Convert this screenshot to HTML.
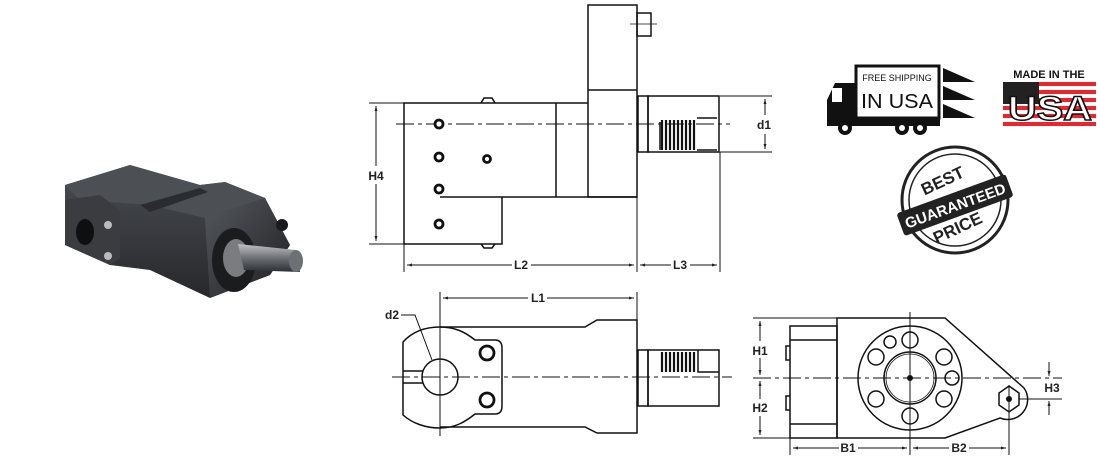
<!DOCTYPE html>
<html><head><meta charset="utf-8"><style>
html,body{margin:0;padding:0;background:#fff;}
svg{display:block;}
text{font-family:"Liberation Sans",sans-serif;}
</style></head><body>
<svg width="1100" height="462" viewBox="0 0 1100 462" xmlns="http://www.w3.org/2000/svg">
<defs>
<marker id="a" viewBox="0 0 10 10" refX="10" refY="5" markerWidth="7" markerHeight="5" orient="auto-start-reverse"><path d="M0,2 L10,5 L0,8 z" fill="#222"/></marker>
<linearGradient id="g1" x1="0" y1="0" x2="0" y2="1"><stop offset="0" stop-color="#4a4d52"/><stop offset="1" stop-color="#26282b"/></linearGradient>
<linearGradient id="g2" x1="0" y1="0" x2="1" y2="1"><stop offset="0" stop-color="#55585d"/><stop offset="1" stop-color="#1e1f22"/></linearGradient>
<linearGradient id="g3" x1="0" y1="0" x2="0" y2="1"><stop offset="0" stop-color="#bfc1c4"/><stop offset="0.5" stop-color="#6d7075"/><stop offset="1" stop-color="#2c2e31"/></linearGradient>
</defs>

<!-- 3D product -->
<g>
<polygon points="65,185 130,165 200,185 225,182 265,198 290,245 270,275 210,298 150,270 110,265 65,245" fill="url(#g1)"/>
<polygon points="65,185 130,165 200,185 225,182 265,198 205,218 150,205 80,200" fill="#4c4f54"/>
<polygon points="140,205 200,188 208,192 150,212" fill="#2a2c2f"/>
<polygon points="205,218 265,198 290,245 270,275 210,298" fill="url(#g2)"/>
<polygon points="65,200 100,195 120,210 120,258 110,265 65,245" fill="#3a3c40"/>
<ellipse cx="85" cy="232" rx="9" ry="13" fill="#0e0f10"/>
<circle cx="108" cy="225" r="4" fill="#bbb"/><circle cx="108" cy="256" r="4" fill="#bbb"/>
<ellipse cx="234" cy="260" rx="22" ry="32" fill="#1b1c1e"/>
<ellipse cx="236" cy="258" rx="13" ry="19" fill="#7a7c80"/>
<polygon points="238,244 296,250 300,272 244,270" fill="url(#g3)"/>
<ellipse cx="296" cy="261" rx="7" ry="11" fill="#6d7075"/>
<circle cx="282" cy="225" r="6" fill="#1a1b1d"/>
</g>

<g fill="none" stroke="#111" stroke-width="1.5">
<!-- TOP VIEW -->
<rect x="588" y="5" width="49" height="192"/>
<line x1="588" y1="90" x2="637" y2="90"/>
<rect x="637" y="13" width="14" height="23"/>
<line x1="630" y1="24" x2="657" y2="24" stroke-width="0.8"/>
<polyline points="440,103 404,103 404,244 502,244 502,197"/>
<line x1="440" y1="103" x2="588" y2="103"/>
<line x1="556" y1="103" x2="556" y2="197"/>
<line x1="440" y1="197" x2="637" y2="197"/>
<path d="M481,103 l3,-5 h8 l3,5 M481,244 l3,4 h8 l3,-4"/>
<rect x="638" y="96" width="10" height="56"/>
<rect x="648" y="96" width="71" height="56"/>
<path d="M660,150 v-28 M697,118 h20 M697,150 h20"/>
<g stroke-width="2.2">
<path d="M662,120 v30 M666,120 v30 M670,120 v30 M674,120 v30 M678,120 v30 M682,120 v30 M686,120 v30 M690,120 v30 M694,120 v30"/>
</g>
<line x1="396" y1="124" x2="730" y2="124" stroke-dasharray="18,4,4,4" stroke-width="1"/>
<!-- dims top -->
<line x1="369" y1="103" x2="404" y2="103" stroke-width="1"/>
<line x1="369" y1="244" x2="404" y2="244" stroke-width="1"/>
<line x1="376" y1="106" x2="376" y2="166" stroke-width="1" marker-start="url(#a)"/>
<line x1="376" y1="184" x2="376" y2="241" stroke-width="1" marker-end="url(#a)"/>
<line x1="404" y1="244" x2="404" y2="272" stroke-width="1"/>
<line x1="637" y1="197" x2="637" y2="272" stroke-width="1"/>
<line x1="720" y1="152" x2="720" y2="272" stroke-width="1"/>
<line x1="407" y1="265" x2="512" y2="265" stroke-width="1" marker-start="url(#a)"/>
<line x1="531" y1="265" x2="634" y2="265" stroke-width="1" marker-end="url(#a)"/>
<line x1="640" y1="265" x2="671" y2="265" stroke-width="1" marker-start="url(#a)"/>
<line x1="690" y1="265" x2="717" y2="265" stroke-width="1" marker-end="url(#a)"/>
<line x1="720" y1="96" x2="772" y2="96" stroke-width="1"/>
<line x1="720" y1="152" x2="772" y2="152" stroke-width="1"/>
<line x1="765" y1="99" x2="765" y2="115" stroke-width="1" marker-start="url(#a)"/>
<line x1="765" y1="134" x2="765" y2="149" stroke-width="1" marker-end="url(#a)"/>

<!-- BOTTOM LEFT VIEW -->
<path d="M440,327 H585 L597,320 H637 V433 H597 L585,427 H440"/>
<path d="M440,327 C425,327 412,332 403,342 V415 C412,423 425,428 440,428"/>
<path d="M440,327 C455,327 465,332 475,340 H495 Q502,340 502,348 V406 Q502,414 495,414 H475 C465,422 455,428 440,428"/>
<circle cx="440" cy="377" r="18"/>
<path d="M403,371 H423 M403,383 H423"/>
<line x1="440" y1="292" x2="440" y2="436" stroke-width="1"/>
<line x1="637" y1="292" x2="637" y2="320" stroke-width="1"/>
<line x1="443" y1="298" x2="528" y2="298" stroke-width="1" marker-start="url(#a)"/>
<line x1="547" y1="298" x2="634" y2="298" stroke-width="1" marker-end="url(#a)"/>
<path d="M401,315 H415 L432,360" stroke-width="1"/>
<rect x="638" y="350" width="10" height="56"/>
<rect x="648" y="350" width="71" height="56"/>
<path d="M698,350 v22 H719"/>
<g stroke-width="2.2"><path d="M662,352 v20 M666,352 v20 M670,352 v20 M674,352 v20 M678,352 v20 M682,352 v20 M686,352 v20 M690,352 v20 M694,352 v20"/></g>
<line x1="392" y1="377" x2="732" y2="377" stroke-dasharray="18,4,4,4" stroke-width="1"/>

<!-- BOTTOM RIGHT VIEW -->
<rect x="790" y="326" width="47" height="112"/>
<path d="M790,340 H837 M790,424 H837"/>
<path d="M790,346 h-4 v14 h4 M790,396 h-4 v14 h4"/>
<path d="M837,318 H945 L1024,388 A20,20 0 0 1 1000,418 L945,438 H837 Z"/>
<circle cx="910" cy="378" r="52"/>
<circle cx="910" cy="378" r="26"/>
<circle cx="910" cy="378" r="24" stroke-width="0.8"/>
<circle cx="910" cy="340" r="8"/><circle cx="910" cy="416" r="8"/>
<circle cx="876" cy="357" r="8"/><circle cx="876" cy="399" r="8"/>
<circle cx="944" cy="357" r="8"/><circle cx="944" cy="399" r="8"/>
<circle cx="890" cy="342" r="6"/><circle cx="952" cy="378" r="7"/>
<polygon points="1009,386 1019,393 1019,405 1009,412 999,405 999,393"/>
<line x1="910" y1="312" x2="910" y2="455" stroke-width="1"/>
<line x1="1009" y1="385" x2="1009" y2="455" stroke-width="1"/>
<line x1="790" y1="438" x2="790" y2="455" stroke-width="1"/>
<line x1="753" y1="378" x2="1062" y2="378" stroke-dasharray="18,4,4,4" stroke-width="1"/>
<line x1="753" y1="318" x2="837" y2="318" stroke-width="1"/>
<line x1="753" y1="438" x2="837" y2="438" stroke-width="1"/>
<line x1="760" y1="321" x2="760" y2="341" stroke-width="1" marker-start="url(#a)"/>
<line x1="760" y1="358" x2="760" y2="375" stroke-width="1" marker-end="url(#a)"/>
<line x1="760" y1="381" x2="760" y2="399" stroke-width="1" marker-start="url(#a)"/>
<line x1="760" y1="416" x2="760" y2="435" stroke-width="1" marker-end="url(#a)"/>
<line x1="1019" y1="399" x2="1062" y2="399" stroke-width="1"/>
<line x1="1049" y1="362" x2="1049" y2="376" stroke-width="1" marker-end="url(#a)"/>
<line x1="1049" y1="415" x2="1049" y2="401" stroke-width="1" marker-end="url(#a)"/>
<line x1="793" y1="448" x2="839" y2="448" stroke-width="1" marker-start="url(#a)"/>
<line x1="858" y1="448" x2="907" y2="448" stroke-width="1" marker-end="url(#a)"/>
<line x1="913" y1="448" x2="949" y2="448" stroke-width="1" marker-start="url(#a)"/>
<line x1="969" y1="448" x2="1006" y2="448" stroke-width="1" marker-end="url(#a)"/>
</g>
<!-- filled dots/holes -->
<g fill="#fff" stroke="#111" stroke-width="2.8">
<circle cx="439" cy="124" r="4"/><circle cx="439" cy="157" r="4"/><circle cx="439" cy="189" r="4"/><circle cx="439" cy="224" r="4"/><circle cx="487" cy="159" r="3.5"/>
<circle cx="487" cy="353" r="7"/><circle cx="487" cy="400" r="7"/>
</g>
<circle cx="910" cy="378" r="3" fill="#111"/><circle cx="1009" cy="399" r="3" fill="#111"/>

<g font-size="12" font-weight="bold" fill="#222" text-anchor="middle">
<text x="376" y="180">H4</text><text x="521" y="269">L2</text><text x="680" y="269">L3</text><text x="764" y="129">d1</text>
<text x="538" y="302">L1</text><text x="392" y="319">d2</text>
<text x="760" y="355">H1</text><text x="760" y="412">H2</text><text x="1052" y="392">H3</text>
<text x="848" y="452">B1</text><text x="959" y="452">B2</text>
</g>

<!-- truck badge -->
<g>
<rect x="856" y="66" width="83" height="52" fill="#fff" stroke="#111" stroke-width="3"/>
<text x="897" y="81" font-size="9" text-anchor="middle" fill="#111">FREE SHIPPING</text>
<text x="897" y="108" font-size="20" text-anchor="middle" fill="#111" textLength="72" lengthAdjust="spacingAndGlyphs">IN USA</text>
<path d="M856,83 H835 L827,100 V125 H856 Z" fill="#111"/>
<rect x="832" y="88" width="10" height="14" fill="#fff"/>
<rect x="827" y="118" width="113" height="8" fill="#111"/>
<circle cx="845" cy="128" r="7" fill="#111"/><circle cx="845" cy="128" r="3" fill="#fff"/>
<circle cx="902" cy="128" r="7" fill="#111"/><circle cx="902" cy="128" r="3" fill="#fff"/>
<circle cx="920" cy="128" r="7" fill="#111"/><circle cx="920" cy="128" r="3" fill="#fff"/>
<polygon points="943,68 975,82 943,82" fill="#111"/>
<polygon points="943,86 975,100 943,100" fill="#111"/>
<polygon points="943,104 975,118 943,118" fill="#111"/>
</g>
<!-- made in usa -->
<g>
<text x="1049" y="78" font-size="11" font-weight="bold" text-anchor="middle" fill="#111">MADE IN THE</text>
<rect x="1003" y="82" width="93" height="4" fill="#e8262b"/>
<rect x="1003" y="90" width="93" height="4" fill="#e8262b"/>
<rect x="1003" y="98" width="93" height="4" fill="#e8262b"/>
<rect x="1003" y="106" width="93" height="4" fill="#e8262b"/>
<rect x="1003" y="114" width="93" height="4" fill="#e8262b"/>
<rect x="1003" y="122" width="93" height="4" fill="#e8262b"/>
<rect x="1003" y="82" width="36" height="22" fill="#222"/>
<text x="1050" y="120" font-size="34" font-weight="bold" text-anchor="middle" fill="#fff" stroke="#111" stroke-width="1.5" textLength="84" lengthAdjust="spacingAndGlyphs">USA</text>
</g>
<!-- best price -->
<g>
<circle cx="955" cy="200" r="53" fill="#fff" stroke="#222" stroke-width="3"/>
<circle cx="955" cy="200" r="46" fill="none" stroke="#222" stroke-width="1.5"/>
<text x="945" y="186" font-size="17" font-weight="bold" text-anchor="middle" fill="#222" transform="rotate(-25 945 186)">BEST</text>
<text x="960" y="233" font-size="17" font-weight="bold" text-anchor="middle" fill="#222" transform="rotate(-25 960 233)">PRICE</text>
<g transform="rotate(-20 955 205)">
<rect x="897" y="193" width="116" height="24" rx="3" fill="#222"/>
<text x="955" y="211" font-size="15" font-weight="bold" text-anchor="middle" fill="#fff" textLength="106" lengthAdjust="spacingAndGlyphs">GUARANTEED</text>
</g>
</g>
</svg>
</body></html>
